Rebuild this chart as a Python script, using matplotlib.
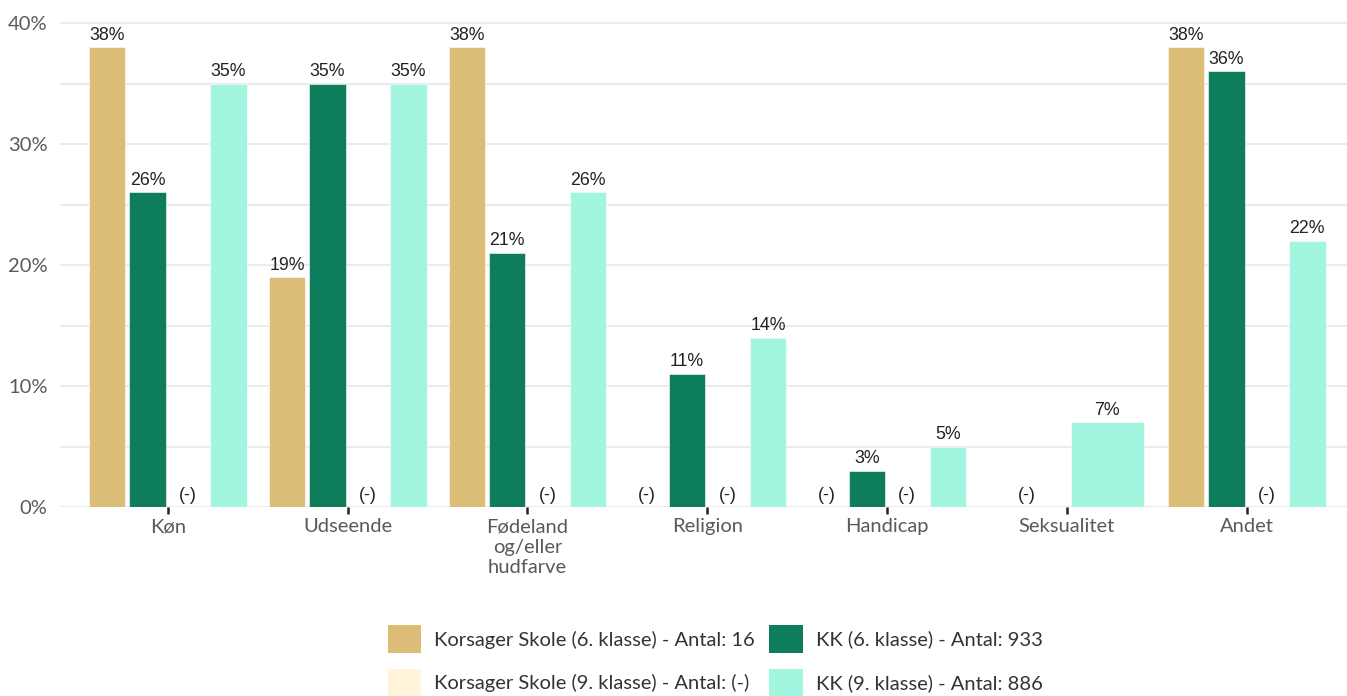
import matplotlib
matplotlib.use("Agg")
import matplotlib.pyplot as plt
from matplotlib.patches import Patch
from matplotlib.ticker import MultipleLocator, FuncFormatter

categories = ["Køn", "Udseende", "Fødeland\nog/eller\nhudfarve", "Religion",
              "Handicap", "Seksualitet", "Andet"]
# "-" = suppressed value shown as "(-)", None = series absent in that category
korsager_6 = [38, 19, 38, "-", "-", "-", 38]
kk_6 = [26, 35, 21, 11, 3, None, 36]
korsager_9 = ["-", "-", "-", "-", "-", None, "-"]
kk_9 = [35, 35, 26, 14, 5, 7, 22]

series_names = ["Korsager Skole (6. klasse) - Antal: 16",
                "KK (6. klasse) - Antal: 933",
                "Korsager Skole (9. klasse) - Antal: (-)",
                "KK (9. klasse) - Antal: 886"]
colors = ["#DBBD77", "#0E7D5C", "#FFF4DA", "#A2F5DE"]
series = [korsager_6, kk_6, korsager_9, kk_9]

W, H = 1347, 696
fig = plt.figure(figsize=(W / 100, H / 100), dpi=100)
ax_left, ax_right = 60, 60 + 7.2 * 179.8
ax_bottom_px, ax_top_px = 507, 11
ax = fig.add_axes([ax_left / W, (H - ax_bottom_px) / H,
                   (ax_right - ax_left) / W, (ax_bottom_px - ax_top_px) / H])

label_font = "Lato"
val_font = "Liberation Sans"
val_size = 12.8

for ci, cat in enumerate(categories):
    present = [si for si in range(4) if series[si][ci] is not None]
    n = len(present)
    slot = 0.9 / n
    for j, si in enumerate(present):
        x = (ci + 1) - 0.45 + slot * (j + 0.5)
        v = series[si][ci]
        if v == "-":
            ax.annotate("(-)", (x, 0), xytext=(0, 2.5), textcoords="offset points",
                        ha="center", va="bottom", fontsize=val_size, color="#222222",
                        family=val_font)
        else:
            val = v / 100
            ax.bar(x, val, width=slot * 0.9, color=colors[si],
                   edgecolor="white", linewidth=0.4, zorder=2)
            ax.annotate(f"{v}%", (x, val), xytext=(0, 2.5), textcoords="offset points",
                        ha="center", va="bottom", fontsize=val_size, color="#222222",
                        family=val_font)

ax.set_xlim(0.4, 7.6)
ax.set_ylim(0, 0.41)
ax.yaxis.set_major_locator(MultipleLocator(0.1))
ax.yaxis.set_minor_locator(MultipleLocator(0.05))
ax.yaxis.set_major_formatter(FuncFormatter(lambda v, p: f"{v*100:.0f}%"))
ax.grid(axis="y", which="both", color="#EBEBEB", linewidth=1.5, zorder=0)
ax.set_axisbelow(True)
for s in ax.spines.values():
    s.set_visible(False)

ax.set_xticks(range(1, 8))
ax.set_xticklabels(categories, family=label_font, fontsize=14.5, color="#5A5A5A",
                   linespacing=1.25)
ax.tick_params(axis="x", length=5, width=1.8, color="#222222", pad=3)
ax.tick_params(axis="y", which="both", length=0, pad=9)
for t in ax.get_yticklabels():
    t.set_family(label_font)
    t.set_fontsize(14.5)
    t.set_color("#5A5A5A")

order = [0, 2, 1, 3]
handles = [Patch(facecolor=colors[i], edgecolor="none") for i in order]
labels = [series_names[i] for i in order]
fig.legend(handles, labels, ncol=2, loc="center",
           bbox_to_anchor=(715 / W, (H - 661) / H),
           frameon=False, prop={"family": label_font, "size": 14.5},
           handlelength=1.64, handleheight=1.74, handletextpad=0.65,
           columnspacing=0.75, labelspacing=0.8, labelcolor="#333333",
           borderpad=0.0)

fig.savefig("out.png", dpi=100)
